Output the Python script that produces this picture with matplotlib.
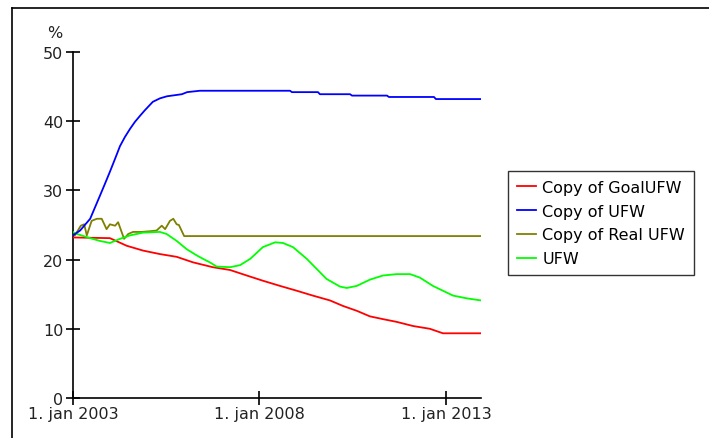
import matplotlib
matplotlib.use('Agg')
import matplotlib.pyplot as plt
from matplotlib.lines import Line2D

# time in years (1. jan 2003 = 2003.0)
t_goal = [2003.0, 2003.99, 2004.44, 2004.88, 2005.33, 2005.78, 2006.22, 2006.75, 2007.21,
          2007.66, 2008.09, 2008.55, 2009.0, 2009.43, 2009.89, 2010.24, 2010.61, 2010.96,
          2011.31, 2011.68, 2012.12, 2012.57, 2012.92, 2013.94]
goal_ufw = [23.2, 23.1, 22.0, 21.3, 20.8, 20.4, 19.6, 18.9, 18.5, 17.7, 16.95, 16.2, 15.5,
            14.8, 14.1, 13.3, 12.6, 11.8, 11.4, 11.0, 10.4, 10.0, 9.35, 9.35]

t_ufw = [2003.0, 2003.19, 2003.46, 2003.72, 2003.86, 2003.99, 2004.13, 2004.26, 2004.39,
         2004.53, 2004.66, 2004.8, 2004.93, 2005.14, 2005.33, 2005.52, 2005.92, 2006.06,
         2006.4, 2008.82, 2008.87, 2009.57, 2009.62, 2010.43, 2010.48, 2011.42, 2011.47,
         2012.68, 2012.73, 2013.94]
copy_ufw = [23.5, 24.2, 25.9, 29.2, 31.0, 32.7, 34.6, 36.4, 37.7, 38.9, 39.9, 40.8, 41.6,
            42.8, 43.3, 43.6, 43.9, 44.2, 44.4, 44.4, 44.2, 44.2, 43.9, 43.9, 43.7, 43.7,
            43.5, 43.5, 43.2, 43.2]

t_real = [2003.0, 2003.05, 2003.21, 2003.3, 2003.37, 2003.5, 2003.64, 2003.77, 2003.9,
          2003.99, 2004.13, 2004.21, 2004.37, 2004.48, 2004.61, 2004.84, 2005.06, 2005.24,
          2005.38, 2005.47, 2005.6, 2005.69, 2005.78, 2005.84, 2005.98, 2013.94]
real_ufw = [23.5, 23.5, 24.9, 25.1, 23.5, 25.6, 25.9, 25.9, 24.4, 25.1, 24.9, 25.4, 23.0,
            23.7, 24.0, 24.0, 24.1, 24.2, 24.9, 24.4, 25.6, 25.9, 25.1, 25.0, 23.4, 23.4]

t_green = [2003.0, 2003.05, 2003.46, 2003.72, 2003.99, 2004.26, 2004.53, 2004.88, 2005.33,
           2005.51, 2005.78, 2006.05, 2006.32, 2006.49, 2006.67, 2006.85, 2007.21, 2007.48,
           2007.75, 2008.09, 2008.42, 2008.63, 2008.9, 2009.27, 2009.8, 2010.16, 2010.34,
           2010.61, 2010.96, 2011.31, 2011.68, 2012.04, 2012.3, 2012.65, 2013.19, 2013.56,
           2013.94]
ufw = [24.0, 23.8, 23.1, 22.7, 22.4, 23.0, 23.5, 23.9, 24.0, 23.7, 22.7, 21.5, 20.6, 20.1,
       19.6, 19.0, 18.9, 19.2, 20.1, 21.8, 22.5, 22.4, 21.8, 20.1, 17.2, 16.1, 15.9, 16.2,
       17.1, 17.7, 17.9, 17.9, 17.4, 16.2, 14.8, 14.4, 14.1]

xticks = [2003, 2008, 2013]
xlabels = ['1. jan 2003', '1. jan 2008', '1. jan 2013']
yticks = [0, 10, 20, 30, 40, 50]

fig = plt.figure(figsize=(7.09, 4.39), dpi=100)
ax = fig.add_axes([73/709, 40/439, 408/709, 346/439])

lw = 1.3
ax.plot(t_goal, goal_ufw, color='#ff0000', lw=lw, label='Copy of GoalUFW', zorder=3)
ax.plot(t_ufw, copy_ufw, color='#0000ff', lw=lw, label='Copy of UFW', zorder=4)
ax.plot(t_real, real_ufw, color='#808000', lw=lw, label='Copy of Real UFW', zorder=2)
ax.plot(t_green, ufw, color='#00ff00', lw=lw, label='UFW', zorder=3)

ax.set_xlim(2003, 2013.94)
ax.set_ylim(0, 50)
ax.set_xticks(xticks)
ax.set_xticklabels(xlabels)
ax.set_yticks(yticks)
ax.spines['top'].set_visible(False)
ax.spines['right'].set_visible(False)
ax.spines['left'].set_linewidth(1.2)
ax.spines['bottom'].set_linewidth(1.2)
ax.tick_params(direction='inout', length=10, width=1.2, labelsize=11.5, colors='black',
               labelcolor='#222222')
ax.tick_params(axis='y', pad=2)
ax.tick_params(axis='x', pad=1)

fig.text(55/709, 1 - 33/439, '%', fontsize=11.5, ha='center', va='center', color='#222222')

leg = ax.legend(loc='upper left', bbox_to_anchor=(508/709, 1 - 172/439),
                bbox_transform=fig.transFigure, fontsize=11.5, frameon=True,
                fancybox=False, edgecolor='black', handlelength=1.2,
                handletextpad=0.4, labelspacing=0.55, borderpad=0.55, borderaxespad=0)
leg.get_frame().set_linewidth(1.0)

# outer frame (top and left edges visible)
fig.add_artist(Line2D([12/709, 1], [1 - 9/439, 1 - 9/439], color='black', lw=1.2,
                      transform=fig.transFigure))
fig.add_artist(Line2D([12/709, 12/709], [0, 1 - 9/439], color='black', lw=1.2,
                      transform=fig.transFigure))

fig.savefig('out.png', dpi=100)
